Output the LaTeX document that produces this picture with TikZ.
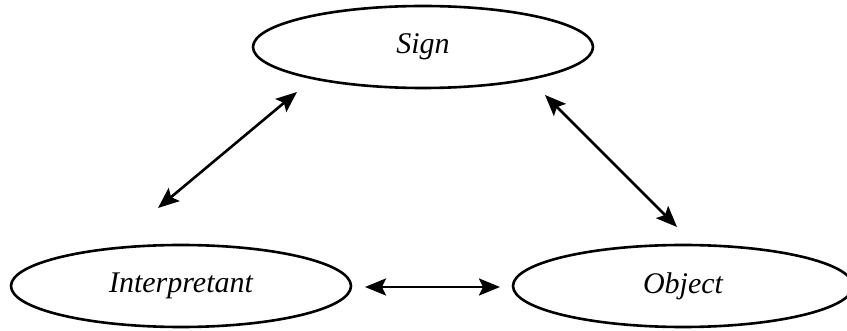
\documentclass[tikz,border=0pt]{standalone}
\usepackage{fontspec}
\setmainfont{Liberation Serif}
\usetikzlibrary{shapes.geometric,arrows.meta}
\tikzset{
  term/.style={draw=black, line width=2.6pt, ellipse, minimum width=340pt,
    minimum height=82pt, inner sep=0pt,
    font=\fontsize{30}{35}\selectfont\itshape},
  link/.style={line width=2.6pt, {Stealth[length=21pt,width=17pt,inset=4pt]}-{Stealth[length=21pt,width=17pt,inset=4pt]}}
}
\begin{document}
\begin{tikzpicture}[x=1pt,y=-1pt]
\useasboundingbox (0,0) rectangle (847,331);
\node[term] (sign)   at (423,47)  {Sign};
\node[term] (interp) at (181,286) {Interpretant};
\node[term] (object) at (683,286) {Object};
\draw[link] ([shift={(-126,45)}]sign.center) -- ([shift={(-23,-78)}]interp.center);
\draw[link] ([shift={(122,48)}]sign.center) -- ([shift={(-6,-59)}]object.center);
\draw[link] ([shift={(184,1)}]interp.center) -- ([shift={(-183,1)}]object.center);
\end{tikzpicture}
\end{document}
